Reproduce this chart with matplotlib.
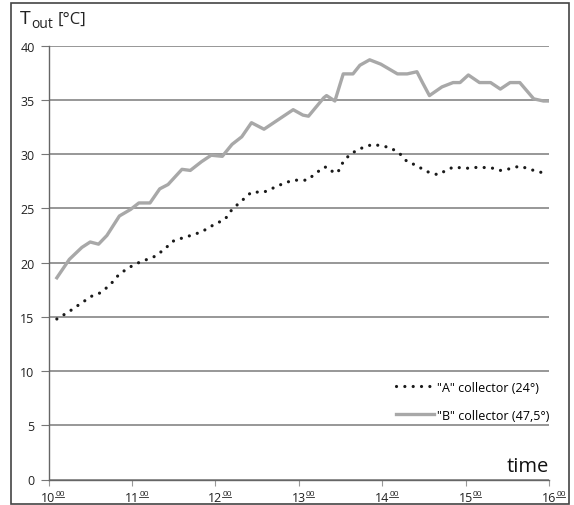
import matplotlib.pyplot as plt
from matplotlib.patches import Rectangle

# readings: minutes after 10:00 and outlet temperature [°C]
a_minutes = [6, 15, 24, 31, 37, 44, 50, 56, 63, 69, 77, 83, 90, 97, 105, 111, 119, 127, 132, 139,
             146, 155, 162, 169, 176, 186, 192, 198, 201, 205, 208, 212, 217, 224, 233, 238, 246, 253,
             258, 264, 272, 280, 286, 291, 301, 310, 320, 325, 330, 339, 349, 358]
a_temp = [14.8, 15.5, 16.3, 16.9, 17.2, 17.9, 18.8, 19.4, 19.9, 20.2, 20.6, 21.2, 22.0, 22.3, 22.6,
          22.9, 23.5, 24.0, 24.9, 25.7, 26.5, 26.5, 26.9, 27.3, 27.6, 27.6, 28.2, 28.8, 28.8, 28.3,
          28.3, 29.3, 30.0, 30.5, 30.9, 30.8, 30.6, 30.0, 29.3, 29.0, 28.4, 28.1, 28.5, 28.8, 28.7,
          28.8, 28.7, 28.5, 28.6, 28.9, 28.5, 28.2]

b_minutes = [6, 15, 24, 30, 36, 42, 51, 59, 65, 73, 80, 86, 96, 102, 110, 117, 125, 132, 139, 146,
             155, 162, 169, 176, 183, 187, 198, 200, 206, 212, 219, 224, 231, 239, 251, 258, 265, 269,
             274, 283, 291, 296, 302, 310, 318, 325, 332, 339, 349, 356, 360]
b_temp = [18.6, 20.3, 21.4, 21.9, 21.7, 22.5, 24.3, 24.9, 25.5, 25.5, 26.8, 27.2, 28.6, 28.5, 29.3,
          29.9, 29.8, 30.9, 31.6, 32.9, 32.3, 32.9, 33.5, 34.1, 33.6, 33.5, 35.2, 35.4, 34.9, 37.4,
          37.4, 38.2, 38.7, 38.3, 37.4, 37.4, 37.6, 36.6, 35.4, 36.2, 36.6, 36.6, 37.3, 36.6, 36.6,
          36.0, 36.6, 36.6, 35.1, 34.9, 34.9]

hours = ["10", "11", "12", "13", "14", "15", "16"]
y_ticks = [0, 5, 10, 15, 20, 25, 30, 35, 40]
labels = ['"A" collector (24°)', '"B" collector (47,5°)']

plt.rcParams['font.family'] = ['Open Sans', 'DejaVu Sans']

W, H = 574, 506
fig = plt.figure(figsize=(W / 100, H / 100), dpi=100)
ax = fig.add_axes([48.5 / W, 1 - 480.5 / H, 500.5 / W, 433.8 / H])

ax.plot(a_minutes, a_temp, color='#1a1a1a', lw=2.3, linestyle=(0, (0.01, 2.6)),
        dash_capstyle='round', label=labels[0], zorder=3)
ax.plot(b_minutes, b_temp, color='#a8a8a8', lw=2.4, label=labels[1], zorder=3)

ax.set_xlim(0, 360)
ax.set_ylim(0, 40)
ax.set_yticks(y_ticks)
ax.set_yticklabels([str(v) for v in y_ticks], fontsize=9, color='#222222')
ax.set_xticks([i * 60 for i in range(len(hours))])
ax.set_xticklabels([])
ax.yaxis.grid(True, color='#7a7a7a', lw=1.1)
ax.set_axisbelow(True)
for s in ['top', 'right']:
    ax.spines[s].set_visible(False)
for s in ['left', 'bottom']:
    ax.spines[s].set_color('#666666')
    ax.spines[s].set_linewidth(1.0)
ax.tick_params(axis='y', length=6, color='#777777', pad=4)
ax.tick_params(axis='x', length=4, color='#999999')

# hour labels with underlined superscript minutes
for i, h in enumerate(hours):
    x = i * 60
    ax.annotate(h, xy=(x, 0), xycoords=('data', 'axes fraction'), xytext=(0, -15.5),
                textcoords='offset points', ha='center', va='baseline', fontsize=9,
                color='#222222')
    ax.annotate("00", xy=(x, 0), xycoords=('data', 'axes fraction'), xytext=(5.2, -11.3),
                textcoords='offset points', ha='left', va='baseline', fontsize=6,
                color='#222222')
    ax.plot([x + 5.0, x + 11.3], [-0.0405, -0.0405], transform=ax.get_xaxis_transform(),
            color='#222222', lw=0.6, clip_on=False)

ax.annotate("time", xy=(1.0, 0), xycoords='axes fraction', xytext=(0, 6),
            textcoords='offset points', ha='right', va='baseline', fontsize=14.5,
            color='#111111')

fig.text(20 / W, 1 - 24 / H, "T", fontsize=14, color='#222222', ha='left', va='baseline')
fig.text(31 / W, 1 - 28 / H, "out", fontsize=10, color='#222222', ha='left', va='baseline')
fig.text(58 / W, 1 - 24 / H, "[°C]", fontsize=12, color='#222222', ha='left', va='baseline')

ax.legend(loc='lower right', bbox_to_anchor=(1.0, 0.133), frameon=False, fontsize=9,
          handlelength=3.0, handletextpad=0.25, labelspacing=1.2, borderaxespad=0,
          borderpad=0)

fig.patches.append(Rectangle((11 / W, 1 / H), 558 / W, 501 / H, transform=fig.transFigure,
                             fill=False, edgecolor='#444444', lw=1.2))

fig.savefig('out.png', dpi=100)
